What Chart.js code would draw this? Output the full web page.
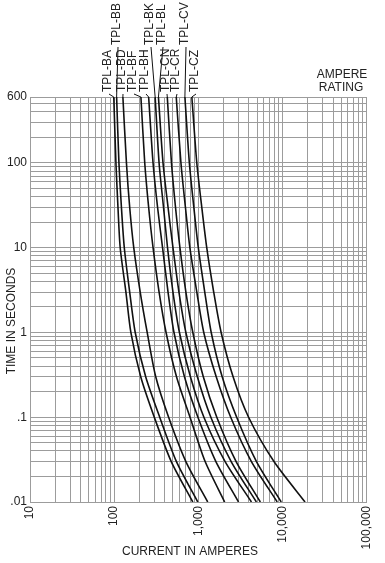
<!DOCTYPE html>
<html lang="en">
<head>
<meta charset="UTF-8">
<title>TPL Time-Current Curves</title>
<style>
  html, body { margin: 0; padding: 0; background: #fff; }
  #wrap { width: 385px; height: 563px; position: relative; }
</style>
<script src="https://cdn.jsdelivr.net/npm/chart.js@4"></script>
</head>
<body>
<div id="wrap"><canvas id="tcc"></canvas></div>
<script>
// time points (seconds) shared by every curve
const times = [600, 100, 30, 10, 3, 1, 0.3, 0.1, 0.03, 0.01];

// current in amperes at each of the times above
const tplBA = [99, 105, 111, 118, 138, 158, 207, 300, 477, 860];
const tplBB = [107, 114, 122, 132, 153, 178, 237, 348, 550, 986];
const tplBD = [127, 140, 153, 171, 204, 247, 312, 444, 712, 1294];
const tplBF = [208, 231, 257, 290, 342, 414, 551, 797, 1206, 2055];
const tplBH = [257, 290, 328, 376, 437, 514, 685, 990, 1618, 3006];
const tplBK = [307, 342, 386, 431, 500, 597, 806, 1166, 2083, 4280];
const tplBL = [336, 381, 437, 500, 589, 712, 974, 1410, 2458, 4900];
const tplCN = [428, 480, 536, 605, 712, 861, 1147, 1659, 2816, 5460];
const tplCR = [547, 622, 703, 794, 960, 1161, 1633, 2428, 4279, 8670];
const tplCV = [693, 783, 885, 1000, 1193, 1424, 1922, 2858, 4913, 9670];
const tplCZ = [838, 960, 1100, 1260, 1524, 1868, 2591, 3960, 7928, 18550];

const fuseNames = ['TPL-BA', 'TPL-BB', 'TPL-BD', 'TPL-BF', 'TPL-BH', 'TPL-BK',
                   'TPL-BL', 'TPL-CN', 'TPL-CR', 'TPL-CV', 'TPL-CZ'];
const fuseCurves = [tplBA, tplBB, tplBD, tplBF, tplBH, tplBK, tplBL, tplCN, tplCR, tplCV, tplCZ];

// labelled ticks
const xTickLabels = [10, 100, 1000, 10000, 100000];
const yTickLabels = [600, 100, 10, 1, 0.1, 0.01];

// where the rotated curve names sit (x centre, and which row: 0 low, 1 high)
const nameSpots = [
  { x: 108, row: 0 }, { x: 117, row: 1 }, { x: 122, row: 0 }, { x: 133, row: 0 },
  { x: 145, row: 0 }, { x: 150, row: 1 }, { x: 162, row: 1 }, { x: 166, row: 0 },
  { x: 176, row: 0 }, { x: 185, row: 1 }, { x: 195, row: 0 }
];

const FONT = 'Arial, "Liberation Sans", sans-serif';
const TEXT = '#222';
const GRID = '#9c9c9c';

// log grid: 1..9 in each decade
function logGrid(fromExp, toExp, last) {
  const out = [];
  for (let e = fromExp; e <= toExp; e++) {
    for (let k = 1; k <= 9; k++) {
      const v = Number((k * Math.pow(10, e)).toPrecision(6));
      if (v <= last) out.push(v);
    }
  }
  return out;
}
const xGrid = logGrid(1, 5, 100000);
const yGrid = logGrid(-2, 2, 600);

function fmtY(v) {
  if (v < 1) return String(v).replace(/^0/, '');
  return String(v);
}

const datasets = fuseCurves.map((cur, i) => ({
  label: fuseNames[i],
  data: cur.map((a, j) => ({ x: a, y: times[j] })),
  borderColor: '#111',
  borderWidth: 1.6,
  pointRadius: 0,
  showLine: true,
  fill: false,
  tension: 0.25
}));

// curve names, leader lines and axis titles
const annotate = {
  id: 'annotate',
  afterDraw(chart) {
    const ctx = chart.ctx;
    ctx.save();
    ctx.fillStyle = TEXT;
    ctx.strokeStyle = '#111';
    ctx.font = '12px ' + FONT;

    chart.data.datasets.forEach((ds, i) => {
      const top = chart.getDatasetMeta(i).data[0];
      const spot = nameSpots[i];
      const bottom = spot.row === 0 ? 92 : 45;
      ctx.save();
      ctx.translate(spot.x, bottom);
      ctx.rotate(-Math.PI / 2);
      ctx.textAlign = 'left';
      ctx.textBaseline = 'middle';
      ctx.fillText(ds.label, 0, 0);
      ctx.restore();
      // leader line down to the top of the curve
      ctx.lineWidth = 1;
      ctx.beginPath();
      ctx.moveTo(spot.x + 1, bottom + 2);
      ctx.lineTo(top.x, top.y);
      ctx.stroke();
    });

    // y title
    ctx.save();
    ctx.translate(12, 321);
    ctx.rotate(-Math.PI / 2);
    ctx.textAlign = 'center';
    ctx.textBaseline = 'middle';
    ctx.fillText('TIME IN SECONDS', 0, 0);
    ctx.restore();

    // x title
    ctx.textAlign = 'center';
    ctx.textBaseline = 'middle';
    ctx.fillText('CURRENT IN AMPERES', 190, 552);

    ctx.fillText('AMPERE', 342, 75);
    ctx.fillText('RATING', 341, 88);
    ctx.restore();
  }
};

new Chart(document.getElementById('tcc'), {
  type: 'scatter',
  data: { datasets },
  options: {
    responsive: true,
    maintainAspectRatio: false,
    animation: false,
    layout: { padding: { top: 97, right: 16, left: 0, bottom: 0 } },
    plugins: { legend: { display: false }, tooltip: { enabled: false } },
    scales: {
      x: {
        type: 'logarithmic',
        min: 10,
        max: 100000,
        afterBuildTicks: s => { s.ticks = xGrid.map(v => ({ value: v })); },
        afterFit: s => { s.height = 61; },
        grid: { color: GRID, lineWidth: 1, drawTicks: false },
        border: { display: true, color: GRID },
        ticks: {
          autoSkip: false,
          minRotation: 90,
          maxRotation: 90,
          padding: 4,
          color: TEXT,
          font: { family: FONT, size: 12 },
          callback: v => xTickLabels.includes(v) ? v.toLocaleString('en-US') : ''
        }
      },
      y: {
        type: 'logarithmic',
        min: 0.01,
        max: 600,
        afterBuildTicks: s => { s.ticks = yGrid.map(v => ({ value: v })); },
        afterFit: s => { s.width = 30; },
        grid: { color: GRID, lineWidth: 1, drawTicks: false },
        border: { display: true, color: GRID },
        ticks: {
          autoSkip: false,
          padding: 3,
          color: TEXT,
          font: { family: FONT, size: 12 },
          callback: v => yTickLabels.includes(v) ? fmtY(v) : ''
        }
      }
    }
  },
  plugins: [annotate]
});
</script>
</body>
</html>
